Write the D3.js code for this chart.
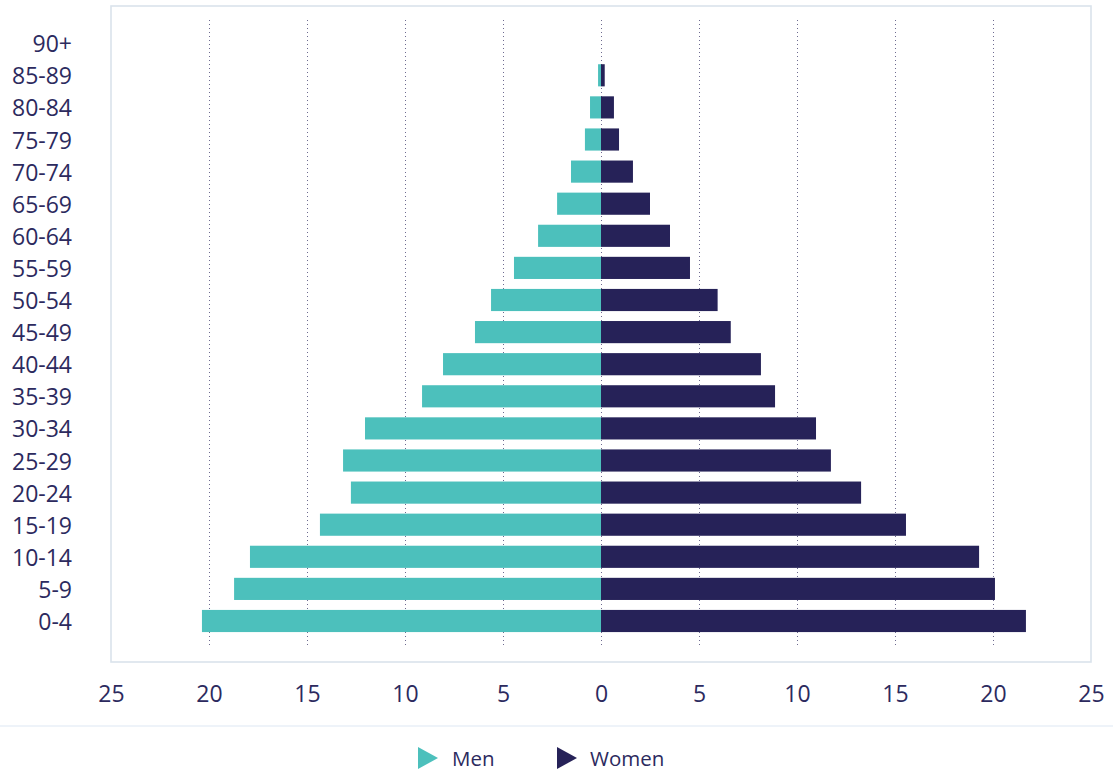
<!DOCTYPE html>
<html>
<head>
<meta charset="utf-8">
<script src="https://cdn.jsdelivr.net/npm/d3@7"></script>
<style>
  html, body { margin: 0; padding: 0; background: #fff; }
  svg { display: block; font-family: "Open Sans", "Noto Sans", sans-serif; }
</style>
</head>
<body>
<svg id="chart" width="1113" height="772"></svg>
<script>
// Age groups, top to bottom
const ageGroups = ["90+", "85-89", "80-84", "75-79", "70-74", "65-69", "60-64", "55-59",
  "50-54", "45-49", "40-44", "35-39", "30-34", "25-29", "20-24", "15-19", "10-14", "5-9", "0-4"];

// Population share per age group
const menValues = [0, 0.15, 0.56, 0.82, 1.53, 2.24, 3.21, 4.44, 5.61, 6.43, 8.06, 9.13,
  12.04, 13.16, 12.76, 14.34, 17.91, 18.72, 20.36];
const womenValues = [0, 0.19, 0.66, 0.92, 1.63, 2.5, 3.52, 4.54, 5.95, 6.62, 8.16, 8.88,
  10.97, 11.73, 13.27, 15.56, 19.29, 20.1, 21.68];

const xTicks = [-25, -20, -15, -10, -5, 0, 5, 10, 15, 20, 25];
const gridTicks = [-20, -15, -10, -5, 0, 5, 10, 15, 20];
const seriesNames = ["Men", "Women"];

const colors = { Men: "#4cc0bc", Women: "#262258" };
const textColor = "#2c2a5e";

const svg = d3.select("#chart");

const x = d3.scaleLinear().domain([-25, 25]).range([111, 1091]);
const y = d3.scaleBand().domain(ageGroups).range([27.15, 637.05])
  .paddingInner(0.31).paddingOuter(0.155);

// Plot frame
svg.append("rect")
  .attr("x", x(-25)).attr("y", 6)
  .attr("width", x(25) - x(-25)).attr("height", 656)
  .attr("fill", "none").attr("stroke", "#dae3ec").attr("stroke-width", 1.6);

// Dotted vertical grid
svg.append("g").selectAll("line").data(gridTicks).join("line")
  .attr("x1", d => x(d) + 0.5).attr("x2", d => x(d) + 0.5)
  .attr("y1", 20).attr("y2", 648)
  .attr("stroke", "#6e6b90").attr("stroke-width", 1)
  .attr("stroke-dasharray", "1,3");

// Bars
const rows = ageGroups.map((g, i) => ({ g, men: menValues[i], women: womenValues[i] }));
svg.append("g").selectAll("rect").data(rows).join("rect")
  .attr("x", d => x(-d.men)).attr("y", d => y(d.g))
  .attr("width", d => x(0) - x(-d.men)).attr("height", y.bandwidth())
  .attr("fill", colors.Men);
svg.append("g").selectAll("rect").data(rows).join("rect")
  .attr("x", x(0)).attr("y", d => y(d.g))
  .attr("width", d => x(d.women) - x(0)).attr("height", y.bandwidth())
  .attr("fill", colors.Women);

// Category labels
svg.append("g").selectAll("text").data(ageGroups).join("text")
  .attr("x", 72).attr("y", d => y(d) + y.bandwidth() / 2)
  .attr("text-anchor", "end").attr("dominant-baseline", "central")
  .attr("font-size", 23).attr("fill", textColor)
  .text(d => d);

// Value axis labels
svg.append("g").selectAll("text").data(xTicks).join("text")
  .attr("x", d => x(d) + 0.5).attr("y", 693)
  .attr("text-anchor", "middle").attr("dominant-baseline", "central")
  .attr("font-size", 23).attr("fill", textColor)
  .text(d => Math.abs(d));

// Separator above the legend
svg.append("line")
  .attr("x1", 0).attr("x2", 1113).attr("y1", 726).attr("y2", 726)
  .attr("stroke", "#eef3f9").attr("stroke-width", 2);

// Legend
const legendPos = [{ name: seriesNames[0], mx: 418, tx: 452 }, { name: seriesNames[1], mx: 557, tx: 590 }];
const legend = svg.append("g").selectAll("g").data(legendPos).join("g");
legend.append("path")
  .attr("d", d => `M${d.mx},${747} L${d.mx + 20},${758} L${d.mx},${769} Z`)
  .attr("fill", d => colors[d.name]);
legend.append("text")
  .attr("x", d => d.tx).attr("y", 758)
  .attr("dominant-baseline", "central")
  .attr("font-size", 20.5).attr("fill", textColor)
  .text(d => d.name);
</script>
</body>
</html>
